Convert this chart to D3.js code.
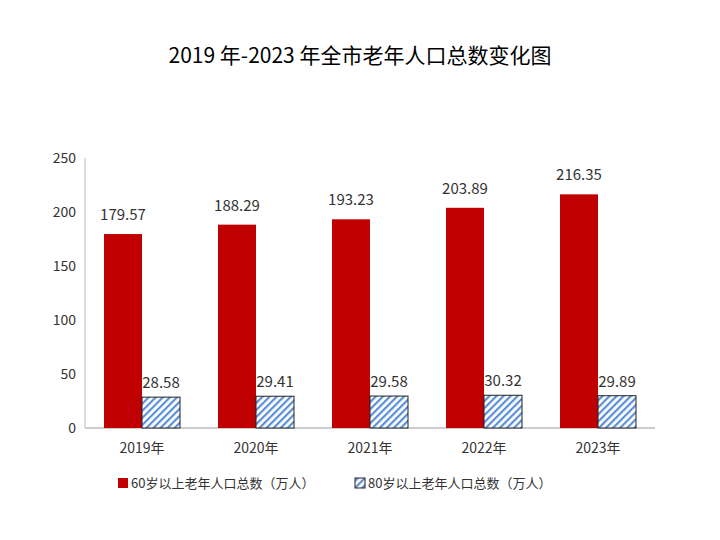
<!DOCTYPE html><html><head><meta charset="utf-8"><script src="https://cdn.jsdelivr.net/npm/d3@7"></script>
<style>body{margin:0;background:#fff}</style></head><body><svg id="c" width="720" height="540"></svg>
<script>
const categories=["2019年","2020年","2021年","2022年","2023年"];
const pop60=[179.57,188.29,193.23,203.89,216.35];
const pop80=[28.58,29.41,29.58,30.32,29.89];
const yTicks=[0,50,100,150,200,250];
const seriesNames=["60岁以上老年人口总数（万人）","80岁以上老年人口总数（万人）"];
const svg=d3.select("#c");
const font="'Noto Sans CJK SC','Noto Sans',sans-serif";
const defs=svg.append("defs");
const p=defs.append("pattern").attr("id","hatch").attr("patternUnits","userSpaceOnUse").attr("width",5).attr("height",5).attr("patternTransform","rotate(45)");
p.append("rect").attr("width",5).attr("height",5).attr("fill","#fff");
p.append("rect").attr("width",2.2).attr("height",5).attr("fill","#5b8fd6");
svg.append("text").attr("x",360).attr("y",63).attr("text-anchor","middle").attr("font-family",font).attr("font-size",21).text("2019 年-2023 年全市老年人口总数变化图");
const x=d3.scaleBand().domain(categories).range([85,655]);
const y=d3.scaleLinear().domain([0,250]).range([428,158]);
svg.append("line").attr("x1",85).attr("x2",85).attr("y1",158).attr("y2",428).attr("stroke","#bbb");
svg.append("line").attr("x1",85).attr("x2",655).attr("y1",428).attr("y2",428).attr("stroke","#999");
svg.selectAll(".yt").data(yTicks).join("text").attr("x",76).attr("y",d=>y(d)+5).attr("text-anchor","end").attr("font-family",font).attr("font-size",14).attr("fill","#333").text(d=>d);
const bw=38;
categories.forEach((c,i)=>{
  const cx=x(c)+x.bandwidth()/2;
  svg.append("rect").attr("x",cx-bw).attr("y",y(pop60[i])).attr("width",bw).attr("height",y(0)-y(pop60[i])).attr("fill","#c00000");
  svg.append("rect").attr("x",cx).attr("y",y(pop80[i])).attr("width",bw).attr("height",y(0)-y(pop80[i])).attr("fill","url(#hatch)").attr("stroke","#222").attr("stroke-width",1);
  svg.append("text").attr("x",cx-bw/2).attr("y",y(pop60[i])-14).attr("text-anchor","middle").attr("font-family",font).attr("font-size",15).attr("fill","#333").text(pop60[i].toFixed(2));
  svg.append("text").attr("x",cx+bw/2).attr("y",y(pop80[i])-9).attr("text-anchor","middle").attr("font-family",font).attr("font-size",15).attr("fill","#333").text(pop80[i].toFixed(2));
  svg.append("text").attr("x",cx).attr("y",453).attr("text-anchor","middle").attr("font-family",font).attr("font-size",14).attr("fill","#333").text(c);
});
const lg=svg.append("g").attr("font-family",font).attr("font-size",13).attr("fill","#333");
lg.append("rect").attr("x",118).attr("y",478).attr("width",10).attr("height",10).attr("fill","#c00000");
lg.append("text").attr("x",131).attr("y",488).text(seriesNames[0]);
lg.append("rect").attr("x",355).attr("y",478).attr("width",10).attr("height",10).attr("fill","url(#hatch)").attr("stroke","#222");
lg.append("text").attr("x",368).attr("y",488).text(seriesNames[1]);
</script></body></html>
